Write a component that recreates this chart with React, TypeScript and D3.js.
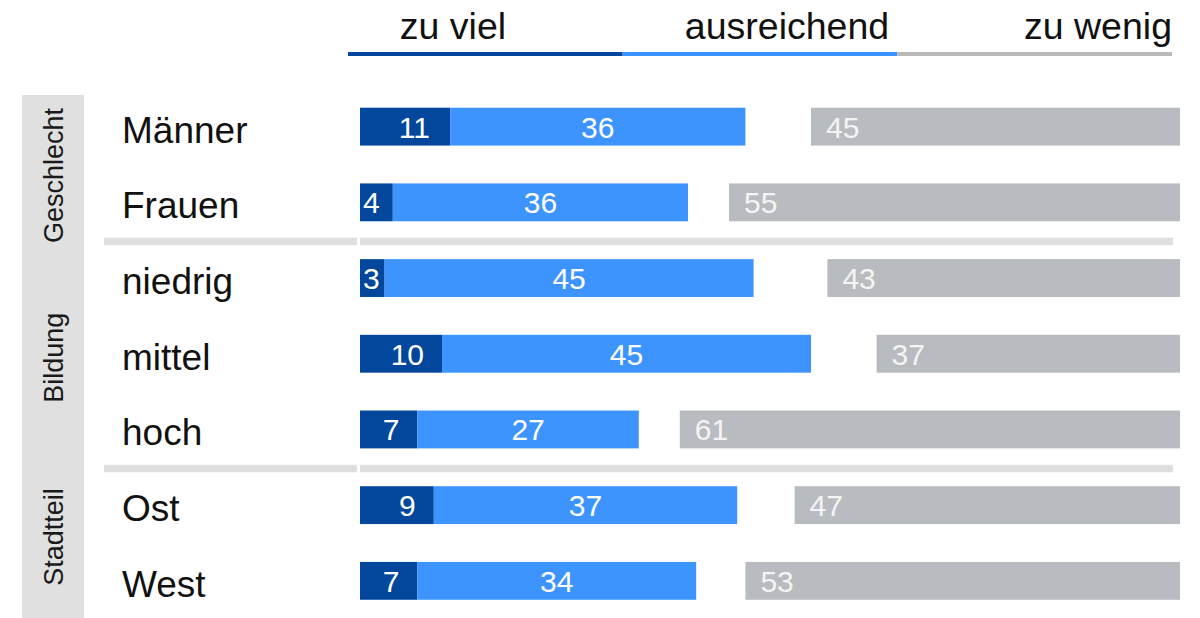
import * as d3 from 'd3';

// Daten
const categories = ['Männer', 'Frauen', 'niedrig', 'mittel', 'hoch', 'Ost', 'West'];
const groupNames = ['Geschlecht', 'Bildung', 'Stadtteil'];
const groupSizes = [2, 3, 2];
const zuViel = [11, 4, 3, 10, 7, 9, 7];
const ausreichend = [36, 36, 45, 45, 27, 37, 34];
const zuWenig = [45, 55, 43, 37, 61, 47, 53];
const legendLabels = ['zu viel', 'ausreichend', 'zu wenig'];

const width = 1200;
const height = 618;
const font = '"Liberation Sans", Arial, Helvetica, sans-serif';
const colors = { dark: '#02479b', light: '#3d94ff', grey: '#b8bcc0', headerGrey: '#b9b9b9', sep: '#dfdfdf' };
// kleine Verschiebung der gedrehten Gruppentitel (wie im Original)
const groupNudge = [11, 4, -6];

export default function App() {
  const x = d3.scaleLinear().domain([0, 100]).range([360, 1180]);
  const y = d3.scaleBand().domain(categories).range([88.8, 618.7]).paddingInner(0.5).paddingOuter(0.25);
  const bh = y.bandwidth();
  const cy = (c: string) => (y(c) ?? 0) + bh / 2;

  // Gruppen: Start/Ende-Index
  const groups = groupNames.map((name, i) => {
    const start = d3.sum(groupSizes.slice(0, i));
    return { name, start, end: start + groupSizes[i] - 1 };
  });

  // Legende: drei gleich lange Segmente
  const legX = d3.scaleLinear().domain([0, 3]).range([348, 1172]);
  const legendColors = [colors.dark, colors.light, colors.headerGrey];

  return (
    <svg width={width} height={height} style={{ position: 'absolute', left: 0, top: 0 }} fontFamily={font}>
      {/* Kopfzeile */}
      {legendLabels.map((l, i) => (
        <g key={l}>
          <rect x={legX(i)} y={52} width={legX(i + 1) - legX(i)} height={4} fill={legendColors[i]} />
          <text
            x={i === 0 ? 453 : i === 1 ? 787 : 1172}
            y={39}
            fontSize={37.5}
            textAnchor={i === 2 ? 'end' : 'middle'}
            fill="#111"
          >
            {l}
          </text>
        </g>
      ))}

      {/* Linke Gruppenleiste */}
      <rect x={22} y={95} width={62} height={523} fill="#e0e0e0" />
      {groups.map((g, i) => {
        const mid = (cy(categories[g.start]) + cy(categories[g.end])) / 2 + groupNudge[i];
        return (
          <text
            key={g.name}
            transform={`translate(63,${mid}) rotate(-90)`}
            textAnchor="middle"
            fontSize={27}
            fill="#1a1a1a"
          >
            {g.name}
          </text>
        );
      })}

      {/* Trennlinien zwischen Gruppen */}
      {groups.slice(0, -1).map((g) => {
        const ys = (cy(categories[g.end]) + cy(categories[g.end + 1])) / 2 + 1;
        return (
          <g key={'sep' + g.name}>
            <rect x={104} y={ys - 3.5} width={253} height={7.5} fill={colors.sep} />
            <rect x={360} y={ys - 3.5} width={813} height={7.5} fill={colors.sep} />
          </g>
        );
      })}

      {/* Zeilen */}
      {categories.map((c, i) => {
        const top = y(c) ?? 0;
        const mid = cy(c);
        const v1 = zuViel[i];
        const v2 = ausreichend[i];
        const v3 = zuWenig[i];
        const darkEnd = x(v1);
        const lightEnd = x(v1 + v2);
        const greyStart = x(100 - v3);
        const labelW = String(v1).length * 0.556 * 30;
        const darkLabelStart = Math.max(363, darkEnd - 18 - labelW);
        return (
          <g key={c}>
            <text x={122} y={mid + 16} fontSize={37} fill="#111">
              {c}
            </text>
            <rect x={x(0)} y={top} width={darkEnd - x(0)} height={bh} fill={colors.dark} />
            <rect x={darkEnd} y={top} width={lightEnd - darkEnd} height={bh} fill={colors.light} />
            <rect x={greyStart} y={top} width={x(100) - greyStart} height={bh} fill={colors.grey} />
            <text x={darkLabelStart} y={mid + 11} fontSize={30} fill="#fff">
              {v1}
            </text>
            <text x={(darkEnd + lightEnd) / 2} y={mid + 11} fontSize={30} fill="#fff" textAnchor="middle">
              {v2}
            </text>
            <text x={greyStart + 15} y={mid + 11} fontSize={30} fill="#f4f4f4">
              {v3}
            </text>
          </g>
        );
      })}
    </svg>
  );
}
